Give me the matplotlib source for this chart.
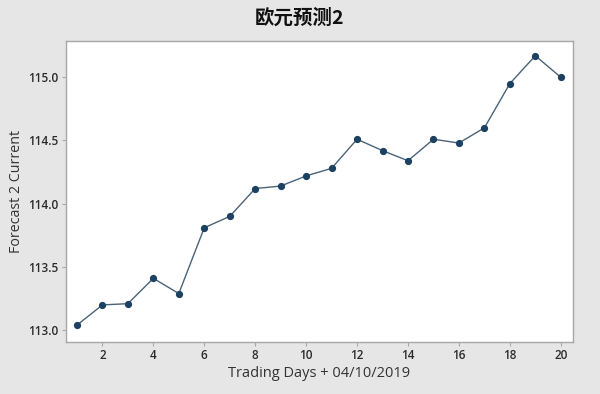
import matplotlib
matplotlib.use("Agg")
import matplotlib.pyplot as plt

plt.rcParams['font.family'] = ['Open Sans', 'Noto Sans CJK SC', 'DejaVu Sans']

# data
days = list(range(1, 21))
forecast = [113.04, 113.20, 113.21, 113.41, 113.29, 113.81, 113.90, 114.12,
            114.14, 114.22, 114.28, 114.51, 114.42, 114.34, 114.51, 114.48,
            114.60, 114.95, 115.17, 115.00]
xticks = [2, 4, 6, 8, 10, 12, 14, 16, 18, 20]
yticks = [113.0, 113.5, 114.0, 114.5, 115.0]

title = "欧元预测2"
xlabel = "Trading Days + 04/10/2019"
ylabel = "Forecast 2 Current"

fig = plt.figure(figsize=(6.0, 3.94), dpi=100)
fig.patch.set_facecolor('#e6e6e6')
ax = fig.add_axes([0.11, 0.133, 0.845, 0.764])
ax.set_facecolor('white')

ax.plot(days, forecast, color='#4a6378', linewidth=1.0, marker='o',
        markersize=4.2, markerfacecolor='#1d4163', markeredgecolor='#1d4163')

ax.set_xlim(0.57, 20.48)
ax.set_ylim(112.91, 115.29)
ax.set_xticks(xticks)
ax.set_yticks(yticks)
ax.set_yticklabels([f"{v:.1f}" for v in yticks])

for s in ax.spines.values():
    s.set_color('#a8a8a8')
    s.set_linewidth(1.0)
ax.tick_params(colors='#a8a8a8', labelcolor='#2b2b2b', length=3, width=0.8,
               labelsize=8.5, pad=2.5)
for lbl in ax.get_xticklabels() + ax.get_yticklabels():
    lbl.set_fontweight('semibold')

ax.set_xlabel(xlabel, fontsize=10.5, color='#333333', labelpad=3)
ax.set_ylabel(ylabel, fontsize=10.3, color='#333333')
ax.yaxis.set_label_coords(-0.083, 0.5)
fig.text(0.5, 0.955, title, ha='center', va='center', fontsize=14,
         fontweight='bold', color='#111111',
         family=['Noto Sans CJK SC', 'DejaVu Sans'])

fig.savefig('out.png', dpi=100, facecolor=fig.get_facecolor())
